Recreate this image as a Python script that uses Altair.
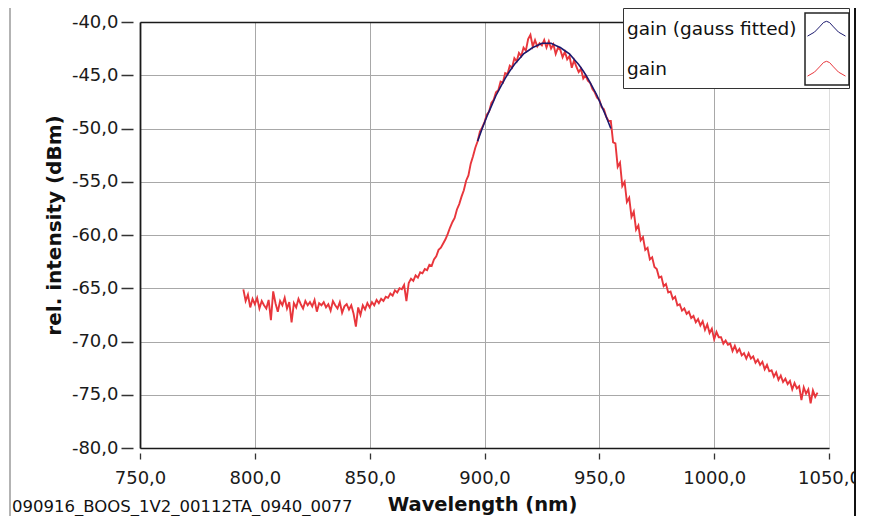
import altair as alt
import pandas as pd

FONT = "DejaVu Sans"

# ---- data ----
gain_start_nm = 795
gain_db = [
    -65.1, -66.2, -65.6, -66.8, -66.0, -66.5, -65.9, -66.9, -66.2, -66.6,
    -66.9, -66.1, -68.0, -65.3, -66.4, -67.2, -66.2, -66.6, -65.9, -66.9,
    -66.3, -68.2, -66.4, -66.8, -66.0, -66.5, -66.9, -66.2, -66.6, -66.3,
    -66.7, -66.1, -67.2, -66.4, -66.6, -66.3, -66.8, -66.5, -67.1, -66.2,
    -66.6, -66.9, -66.3, -67.3, -66.7, -66.5, -67.0, -66.6, -67.4, -68.6,
    -66.8, -67.5, -66.6, -67.0, -66.4, -66.8, -66.3, -66.6, -66.1, -66.4,
    -66.0, -66.2, -65.8, -65.9, -65.5, -65.7, -65.2, -65.4, -65.0, -65.1,
    -64.7, -66.2, -64.5, -64.1, -64.3, -63.8, -64.0, -63.5, -63.6, -63.2,
    -63.3, -62.8, -62.9, -62.3, -62.0, -61.4, -61.2, -60.8, -60.4, -59.9,
    -59.3, -58.8, -58.4, -57.6, -57.1, -56.4, -55.8, -54.9, -54.4, -53.3,
    -52.6, -51.8, -51.2, -50.3, -49.9, -49.4, -48.7, -48.4, -47.6, -47.3,
    -46.6, -46.4, -45.6, -45.7, -44.8, -44.9, -44.1, -44.3, -43.4, -43.7,
    -42.9, -43.2, -42.4, -42.7, -41.6, -41.2, -42.3, -41.7, -42.3, -42.0,
    -42.2, -41.7, -42.4, -41.8, -42.5, -42.1, -43.0, -42.4, -42.6, -43.3,
    -42.8, -43.5, -43.2, -44.3, -43.6, -44.2, -44.7, -44.4, -45.3, -45.0,
    -45.5, -45.7, -46.3, -46.6, -47.1, -47.3, -48.0, -48.2, -48.9, -49.3,
    -49.3, -51.3, -51.4, -53.6, -53.2, -55.4, -55.0, -56.9, -56.5, -58.3,
    -57.8, -59.5, -59.1, -60.5, -60.2, -61.4, -61.2, -62.3, -62.1, -63.0,
    -63.2, -64.0, -63.9, -64.8, -64.6, -65.4, -65.3, -66.0, -65.8, -66.6,
    -66.5, -67.1, -66.9, -67.4, -67.2, -67.8, -67.6, -68.2, -67.9, -68.5,
    -68.1, -68.9, -68.4, -69.2, -68.8, -69.8, -69.1, -69.6, -69.6, -70.2,
    -69.9, -70.3, -70.2, -70.9, -70.4, -71.0, -70.7, -71.3, -71.1, -71.6,
    -71.1, -71.6, -71.4, -72.0, -71.7, -72.2, -71.9, -72.6, -72.2, -72.8,
    -72.7, -73.3, -72.9, -73.6, -73.2, -73.8, -73.5, -74.0, -73.7, -74.5,
    -73.9, -74.4, -74.2, -75.5, -74.3, -74.9, -74.5, -75.8, -74.6, -75.2,
    -74.8,
]
gain_nm = [gain_start_nm + i for i in range(len(gain_db))]

fit_nm = [897, 899, 901, 903, 905, 907, 909, 911, 913, 915,
          917, 919, 921, 923, 925, 927, 929, 931, 933, 935,
          937, 939, 941, 943, 945, 947, 949, 951, 953, 955]
fit_db = [-51.2, -50.0, -48.9, -47.9, -46.9, -46.1, -45.3, -44.6, -44.0, -43.5,
          -43.0, -42.7, -42.4, -42.2, -42.0, -42.0, -42.0, -42.2, -42.4, -42.7,
          -43.0, -43.5, -44.0, -44.6, -45.3, -46.1, -46.9, -47.9, -48.9, -50.0]

series_names = ["gain (gauss fitted)", "gain"]
series_colors = ["#1c1a6e", "#e8363c"]
x_ticks = [750, 800, 850, 900, 950, 1000, 1050]
y_ticks = [-80, -75, -70, -65, -60, -55, -50, -45, -40]
file_label = "090916_BOOS_1V2_00112TA_0940_0077"

gain_df = pd.DataFrame({"wl": gain_nm, "db": gain_db, "series": series_names[1]})
fit_df = pd.DataFrame({"wl": fit_nm, "db": fit_db, "series": series_names[0]})
dummy_df = pd.DataFrame({"wl": fit_nm[:1], "db": fit_db[:1], "box": ["box"]})
one_df = pd.DataFrame({"a": [0]})

LABEL_EXPR = "replace(replace(format(datum.value, '.1f'), '.', ','), '\u2212', '-')"

x_scale = alt.Scale(domain=[750, 1050], nice=False, zero=False)
y_scale = alt.Scale(domain=[-80, -40], nice=False, zero=False)

x_axis = alt.Axis(
    values=x_ticks, labelExpr=LABEL_EXPR, labelFont=FONT, labelFontSize=18,
    labelColor="#1a1a1a", labelBaseline="alphabetic", labelPadding=24,
    labelFlush=False, labelOverlap=False,
    tickSize=11, tickDash=[0, 5, 6, 30], tickColor="#333333", tickWidth=1.3,
    domainColor="#1a1a1a", domainWidth=1.6,
    grid=True, gridWidth=1,
    gridColor={"condition": {"test": "datum.value >= 1050", "value": "transparent"},
               "value": "#a8a8a8"},
    title="Wavelength (nm)", titleFont=FONT, titleFontSize=19.5,
    titleFontWeight="bold", titleColor="#111111",
    titleX=342, titleY=62, titleBaseline="alphabetic", titleAlign="center",
)
y_axis = alt.Axis(
    values=y_ticks, labelExpr=LABEL_EXPR, labelFont=FONT, labelFontSize=18,
    labelColor="#1a1a1a", labelPadding=2, labelFlush=False, labelOverlap=False,
    tickSize=20, tickDash=[0, 7, 12, 40], tickColor="#333333", tickWidth=1.3,
    domainColor="#1a1a1a", domainWidth=1.8,
    grid=True, gridColor="#a8a8a8", gridWidth=1,
    title="rel. intensity (dBm)", titleFont=FONT, titleFontSize=20,
    titleFontWeight="bold", titleColor="#111111",
    titleX=-86, titleY=203, titleAngle=270, titleBaseline="middle", titleAlign="center",
)

peak_path = ("M-1,-0.85M1,0.85M-0.95,0.38L-0.6,0.18L-0.35,-0.08L-0.15,-0.3"
             "L0,-0.36L0.15,-0.3L0.35,-0.08L0.6,0.18L0.95,0.38")

color_enc = alt.Color(
    "series:N",
    scale=alt.Scale(domain=series_names, range=series_colors),
    legend=alt.Legend(
        orient="none", legendX=483, legendY=-14, title=None,
        fillColor="white", strokeColor="#333333", padding=0,
        labelFont=FONT, labelFontSize=18.5, labelColor="#111111", labelLimit=0,
        labelOffset={"expr": "-220"}, symbolOffset=183, symbolType=peak_path,
        symbolSize=1600, symbolStrokeWidth=1, symbolFillColor="transparent",
        rowPadding=0,
    ),
)

gain_line = alt.Chart(gain_df).mark_line(strokeWidth=1.9, interpolate="linear").encode(
    x=alt.X("wl:Q", scale=x_scale, axis=x_axis),
    y=alt.Y("db:Q", scale=y_scale, axis=y_axis),
    color=color_enc,
)

fit_line = alt.Chart(fit_df).mark_line(strokeWidth=1.6).encode(
    x=alt.X("wl:Q", scale=x_scale, axis=None),
    y=alt.Y("db:Q", scale=y_scale),
    color=color_enc,
)

# invisible single-point layer: gives the top frame line and the symbol box
box_path = "M-0.611,-1L0.611,-1L0.611,1L-0.611,1Z"
dummy = alt.Chart(dummy_df).mark_line(color="#222222", strokeWidth=1.5).encode(
    x=alt.X("wl:Q", scale=x_scale,
            axis=alt.Axis(orient="top", labels=False, ticks=False, grid=False,
                          domainColor="#1a1a1a", domainWidth=1.6, title=None)),
    y=alt.Y("db:Q", scale=y_scale),
    strokeDash=alt.StrokeDash(
        "box:N", scale=alt.Scale(domain=["box"], range=[[1, 0]]),
        legend=alt.Legend(
            orient="none", legendX=650, legendY=-10, title=None, padding=0,
            labelExpr="''", symbolType=box_path, symbolSize=5184,
            symbolStrokeColor="#222222", symbolStrokeWidth=1.5,
            symbolFillColor="transparent",
        ),
    ),
)

file_text = alt.Chart(one_df).mark_text(
    align="left", baseline="alphabetic", font=FONT, fontSize=16.5, color="#111111"
).encode(x=alt.value(-128), y=alt.value(490), text=alt.value(file_label))

left_frame = alt.Chart(one_df).mark_rule(color="#9a9a9a", strokeWidth=1.5).encode(
    x=alt.value(-130), y=alt.value(-14), y2=alt.value(494))
right_frame = alt.Chart(one_df).mark_rule(color="#111111", strokeWidth=2).encode(
    x=alt.value(715), y=alt.value(-14), y2=alt.value(494))

chart = alt.layer(
    gain_line, fit_line, dummy, file_text, left_frame, right_frame
).resolve_axis(x="independent").properties(
    width=689, height=426,
    padding={"left": 132, "top": 14, "right": 27, "bottom": 68},
    autosize=alt.AutoSizeParams(type="none"),
    background="white",
).configure_view(stroke=None).configure(font=FONT)

chart.save("out.html", embed_options={"renderer": "svg", "actions": False})
